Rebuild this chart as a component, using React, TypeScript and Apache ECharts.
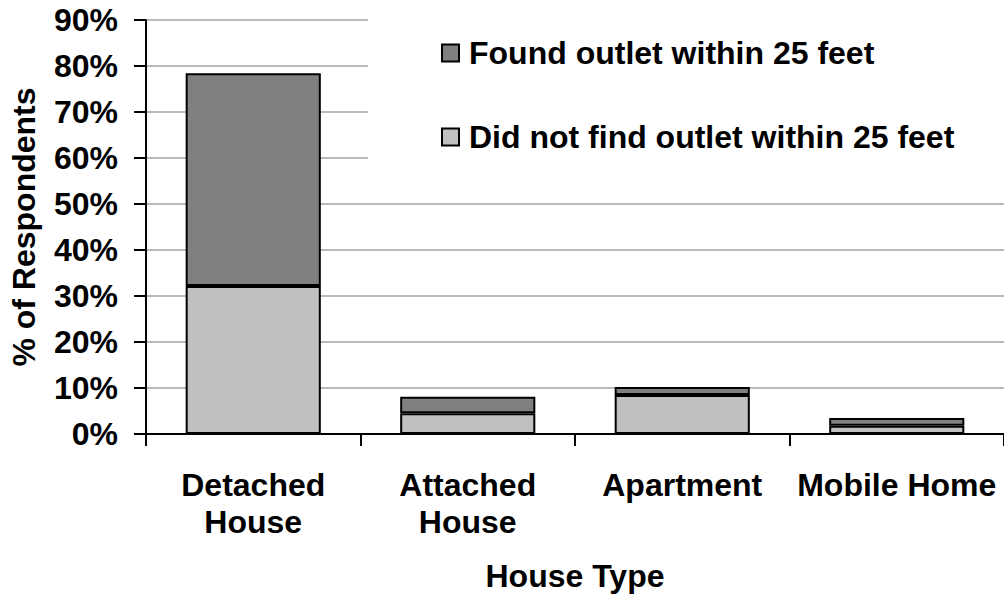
import React, { useEffect, useRef } from "react";
import * as echarts from "echarts";

const categories = ["Detached\nHouse", "Attached\nHouse", "Apartment", "Mobile Home"];
const notFound = [32.2, 4.5, 8.5, 1.8];
const found = [46.2, 3.6, 1.7, 1.7];
const seriesNames = ["Found outlet within 25 feet", "Did not find outlet within 25 feet"];
const yTicks = { min: 0, max: 90, interval: 10 };

const FONT = "'Liberation Sans', Arial, Helvetica, sans-serif";
const FS = 32;

export default function App() {
  const ref = useRef<HTMLDivElement>(null);
  useEffect(() => {
    if (!ref.current) return;
    const chart = echarts.init(ref.current, undefined, { renderer: "svg" });
    chart.setOption({
      animation: false,
      backgroundColor: "#fff",
      textStyle: { fontFamily: FONT },
      grid: { left: 146, top: 20, bottom: 163, width: 860 },
      legend: {
        data: seriesNames,
        orient: "vertical",
        left: 368,
        top: 0,
        itemGap: 52,
        itemWidth: 17,
        itemHeight: 17,
        padding: [37, 200, 30, 73],
        backgroundColor: "#fff",
        icon: "rect",
        selectedMode: false,
        textStyle: {
          fontFamily: FONT,
          fontWeight: "bold",
          fontSize: FS,
          lineHeight: 32,
          color: "#000",
          padding: [0, 0, 0, 5],
        },
      },
      xAxis: {
        type: "category",
        data: categories,
        name: "House Type",
        nameLocation: "middle",
        nameGap: 126,
        nameTextStyle: { fontFamily: FONT, fontWeight: "bold", fontSize: FS, color: "#000" },
        axisLine: { lineStyle: { color: "#000", width: 2 } },
        axisTick: { show: true, length: 12, lineStyle: { color: "#000", width: 2 } },
        axisLabel: {
          fontFamily: FONT,
          fontWeight: "bold",
          fontSize: FS,
          lineHeight: 37,
          color: "#000",
          margin: 32,
          interval: 0,
        },
      },
      yAxis: {
        type: "value",
        min: yTicks.min,
        max: yTicks.max,
        interval: yTicks.interval,
        name: "% of Respondents",
        nameLocation: "middle",
        nameGap: 106,
        nameTextStyle: { fontFamily: FONT, fontWeight: "bold", fontSize: FS, color: "#000" },
        axisLine: { show: true, lineStyle: { color: "#000", width: 2 } },
        axisTick: { show: true, length: 12, lineStyle: { color: "#000", width: 2 } },
        axisLabel: {
          formatter: "{value}%",
          fontFamily: FONT,
          fontWeight: "bold",
          fontSize: FS,
          color: "#000",
          margin: 28,
        },
        splitLine: { show: true, lineStyle: { color: "#a3a3a3", width: 1.5 } },
      },
      series: [
        {
          name: seriesNames[1],
          type: "bar",
          stack: "total",
          barWidth: "63%",
          data: notFound,
          itemStyle: { color: "#c0c0c0", borderColor: "#000", borderWidth: 2 },
        },
        {
          name: seriesNames[0],
          type: "bar",
          stack: "total",
          barWidth: "63%",
          data: found,
          itemStyle: { color: "#808080", borderColor: "#000", borderWidth: 2 },
        },
      ],
    });
    return () => chart.dispose();
  }, []);
  return (
    <div
      ref={ref}
      style={{ position: "fixed", left: 0, top: 0, width: 1004, height: 597 }}
    />
  );
}
